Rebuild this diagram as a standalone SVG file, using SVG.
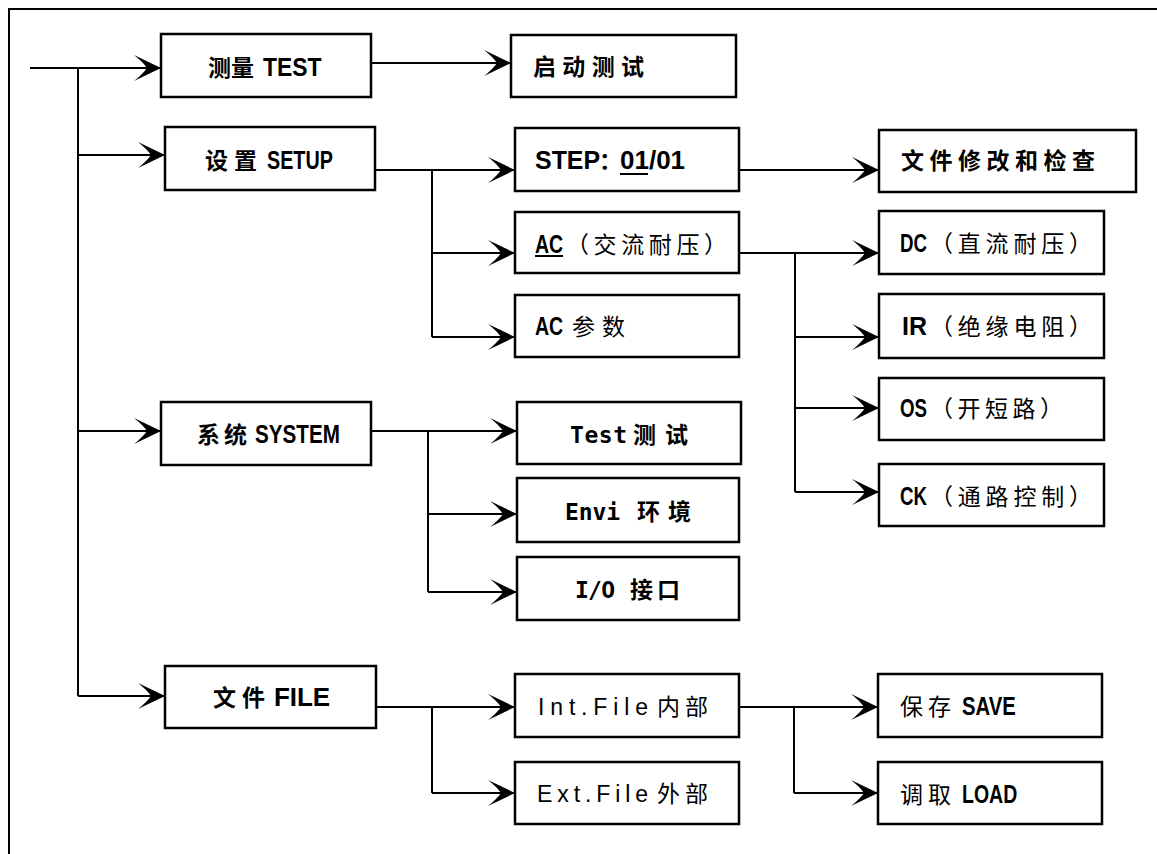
<svg xmlns="http://www.w3.org/2000/svg" width="1157" height="854" viewBox="0 0 1157 854">
<defs>
<style>
.box{fill:#fff;stroke:#000;stroke-width:2.5}
.ln{fill:none;stroke:#000;stroke-width:2}
.arr{fill:none;stroke:#000;stroke-width:2;marker-end:url(#ah)}
text{font-size:23px;fill:#000}
.lb{font-family:"Liberation Sans","Noto Sans CJK SC",sans-serif;font-weight:bold;font-size:26px}
.cb{font-family:"Noto Sans CJK SC",sans-serif;font-weight:bold}
.cn{font-family:"Noto Sans CJK SC",sans-serif;font-weight:normal}
.mb{font-family:"DejaVu Sans Mono","Noto Sans CJK SC",monospace;font-weight:bold}
.sn{font-family:"Liberation Sans","Noto Sans CJK SC",sans-serif;font-weight:normal}
</style>
<marker id="ah" markerUnits="userSpaceOnUse" markerWidth="28" markerHeight="28" refX="27" refY="13" orient="auto" viewBox="0 0 28 26">
<path d="M27,13 L0,0 Q9,7 13,13 Q9,19 0,26 Z" fill="#000"/>
</marker>
</defs>
<rect x="9" y="9" width="1200" height="900" fill="#fff" stroke="#000" stroke-width="2"/>
<g id="connectors">
<path class="arr" d="M30,68 H161"/>
<path class="ln" d="M78,68 V696"/>
<path class="arr" d="M78,155 H165"/>
<path class="arr" d="M78,431 H161"/>
<path class="arr" d="M78,696 H165"/>
<path class="arr" d="M371,63 H511"/>
<path class="arr" d="M375,170 H515"/>
<path class="ln" d="M432,170 V337"/>
<path class="arr" d="M432,253 H515"/>
<path class="arr" d="M432,337 H515"/>
<path class="arr" d="M739,170 H879"/>
<path class="arr" d="M739,253 H879"/>
<path class="ln" d="M795,253 V492"/>
<path class="arr" d="M795,337 H879"/>
<path class="arr" d="M795,408 H879"/>
<path class="arr" d="M795,492 H879"/>
<path class="arr" d="M371,431 H517"/>
<path class="ln" d="M428,431 V592"/>
<path class="arr" d="M428,514 H517"/>
<path class="arr" d="M428,592 H517"/>
<path class="arr" d="M376,707 H515"/>
<path class="ln" d="M432,707 V793"/>
<path class="arr" d="M432,793 H515"/>
<path class="arr" d="M739,707 H878"/>
<path class="ln" d="M794,707 V793"/>
<path class="arr" d="M794,793 H878"/>
</g>
<g id="n-test"><rect class="box" x="161" y="34" width="210" height="63"/><text class="cb" x="208" y="76">测量</text><text class="lb" transform="translate(263,76) scale(0.88,1)">TEST</text></g>
<g id="n-setup"><rect class="box" x="165" y="127" width="210" height="63"/><text class="cb" x="205" y="169" textLength="52" lengthAdjust="spacing">设置</text><text class="lb" transform="translate(267,169) scale(0.76,1)">SETUP</text></g>
<g id="n-system"><rect class="box" x="161" y="402" width="210" height="63"/><text class="cb" x="197" y="443" textLength="50" lengthAdjust="spacing">系统</text><text class="lb" transform="translate(255,443) scale(0.795,1)">SYSTEM</text></g>
<g id="n-file"><rect class="box" x="165" y="666" width="211" height="62"/><text class="cb" x="213" y="706" textLength="52" lengthAdjust="spacing">文件</text><text class="lb" x="274" y="706" textLength="56" lengthAdjust="spacing">FILE</text></g>
<g id="n-start"><rect class="box" x="511" y="35" width="225" height="62"/><text class="cb" x="533" y="75" textLength="111" lengthAdjust="spacing">启动测试</text></g>
<g id="n-step"><rect class="box" x="515" y="128" width="224" height="63"/><text class="lb" transform="translate(535,169) scale(0.96,1)">STEP</text><text class="cb" x="599" y="169">：</text><text class="lb" x="620" y="169">01/01</text><line class="ln" x1="620" y1="174" x2="648" y2="174"/></g>
<g id="n-ac"><rect class="box" x="515" y="212" width="224" height="61"/><text class="lb" transform="translate(535,253) scale(0.75,1)">AC</text><text class="cn" x="566" y="253" textLength="161" lengthAdjust="spacing">（交流耐压）</text><line class="ln" x1="535" y1="256" x2="563" y2="256"/></g>
<g id="n-acparam"><rect class="box" x="515" y="295" width="224" height="62"/><text class="lb" transform="translate(535,335) scale(0.75,1)">AC</text><text class="cn" x="572" y="335" textLength="53" lengthAdjust="spacing">参数</text></g>
<g id="n-check"><rect class="box" x="879" y="130" width="257" height="62"/><text class="cb" x="901" y="169" textLength="194" lengthAdjust="spacing">文件修改和检查</text></g>
<g id="n-dc"><rect class="box" x="879" y="211" width="225" height="63"/><text class="lb" transform="translate(900,252) scale(0.72,1)">DC</text><text class="cn" x="930" y="252" textLength="162" lengthAdjust="spacing">（直流耐压）</text></g>
<g id="n-ir"><rect class="box" x="879" y="294" width="225" height="64"/><text class="lb" transform="translate(902,335) scale(0.96,1)">IR</text><text class="cn" x="930" y="335" textLength="162" lengthAdjust="spacing">（绝缘电阻）</text></g>
<g id="n-os"><rect class="box" x="879" y="378" width="225" height="62"/><text class="lb" transform="translate(900,417) scale(0.72,1)">OS</text><text class="cn" x="930" y="417" textLength="133" lengthAdjust="spacing">（开短路）</text></g>
<g id="n-ck"><rect class="box" x="879" y="464" width="225" height="62"/><text class="lb" transform="translate(900,505) scale(0.72,1)">CK</text><text class="cn" x="930" y="505" textLength="162" lengthAdjust="spacing">（通路控制）</text></g>
<g id="n-systest"><rect class="box" x="517" y="402" width="224" height="62"/><text class="mb" x="570" y="443" textLength="57" lengthAdjust="spacing">Test</text><text class="cb" x="633" y="443" textLength="55" lengthAdjust="spacing">测试</text></g>
<g id="n-envi"><rect class="box" x="517" y="478" width="222" height="64"/><text class="mb" x="565" y="520" textLength="55" lengthAdjust="spacing">Envi</text><text class="cb" x="637" y="520" textLength="54" lengthAdjust="spacing">环境</text></g>
<g id="n-io"><rect class="box" x="517" y="557" width="222" height="63"/><text class="mb" x="575" y="598" textLength="40" lengthAdjust="spacing">I/O</text><text class="cb" x="630" y="598" textLength="50" lengthAdjust="spacing">接口</text></g>
<g id="n-int"><rect class="box" x="515" y="674" width="224" height="63"/><text class="sn" x="538" y="715" textLength="110" lengthAdjust="spacing">Int.File</text><text class="cn" x="657" y="715" textLength="51" lengthAdjust="spacing">内部</text></g>
<g id="n-ext"><rect class="box" x="515" y="762" width="224" height="62"/><text class="sn" x="537" y="802" textLength="111" lengthAdjust="spacing">Ext.File</text><text class="cn" x="657" y="802" textLength="51" lengthAdjust="spacing">外部</text></g>
<g id="n-save"><rect class="box" x="878" y="674" width="224" height="63"/><text class="cn" x="900" y="715" textLength="51" lengthAdjust="spacing">保存</text><text class="lb" transform="translate(962,715) scale(0.78,1)">SAVE</text></g>
<g id="n-load"><rect class="box" x="878" y="762" width="224" height="62"/><text class="cn" x="900" y="803" textLength="51" lengthAdjust="spacing">调取</text><text class="lb" transform="translate(962,803) scale(0.75,1)">LOAD</text></g>
</svg>
